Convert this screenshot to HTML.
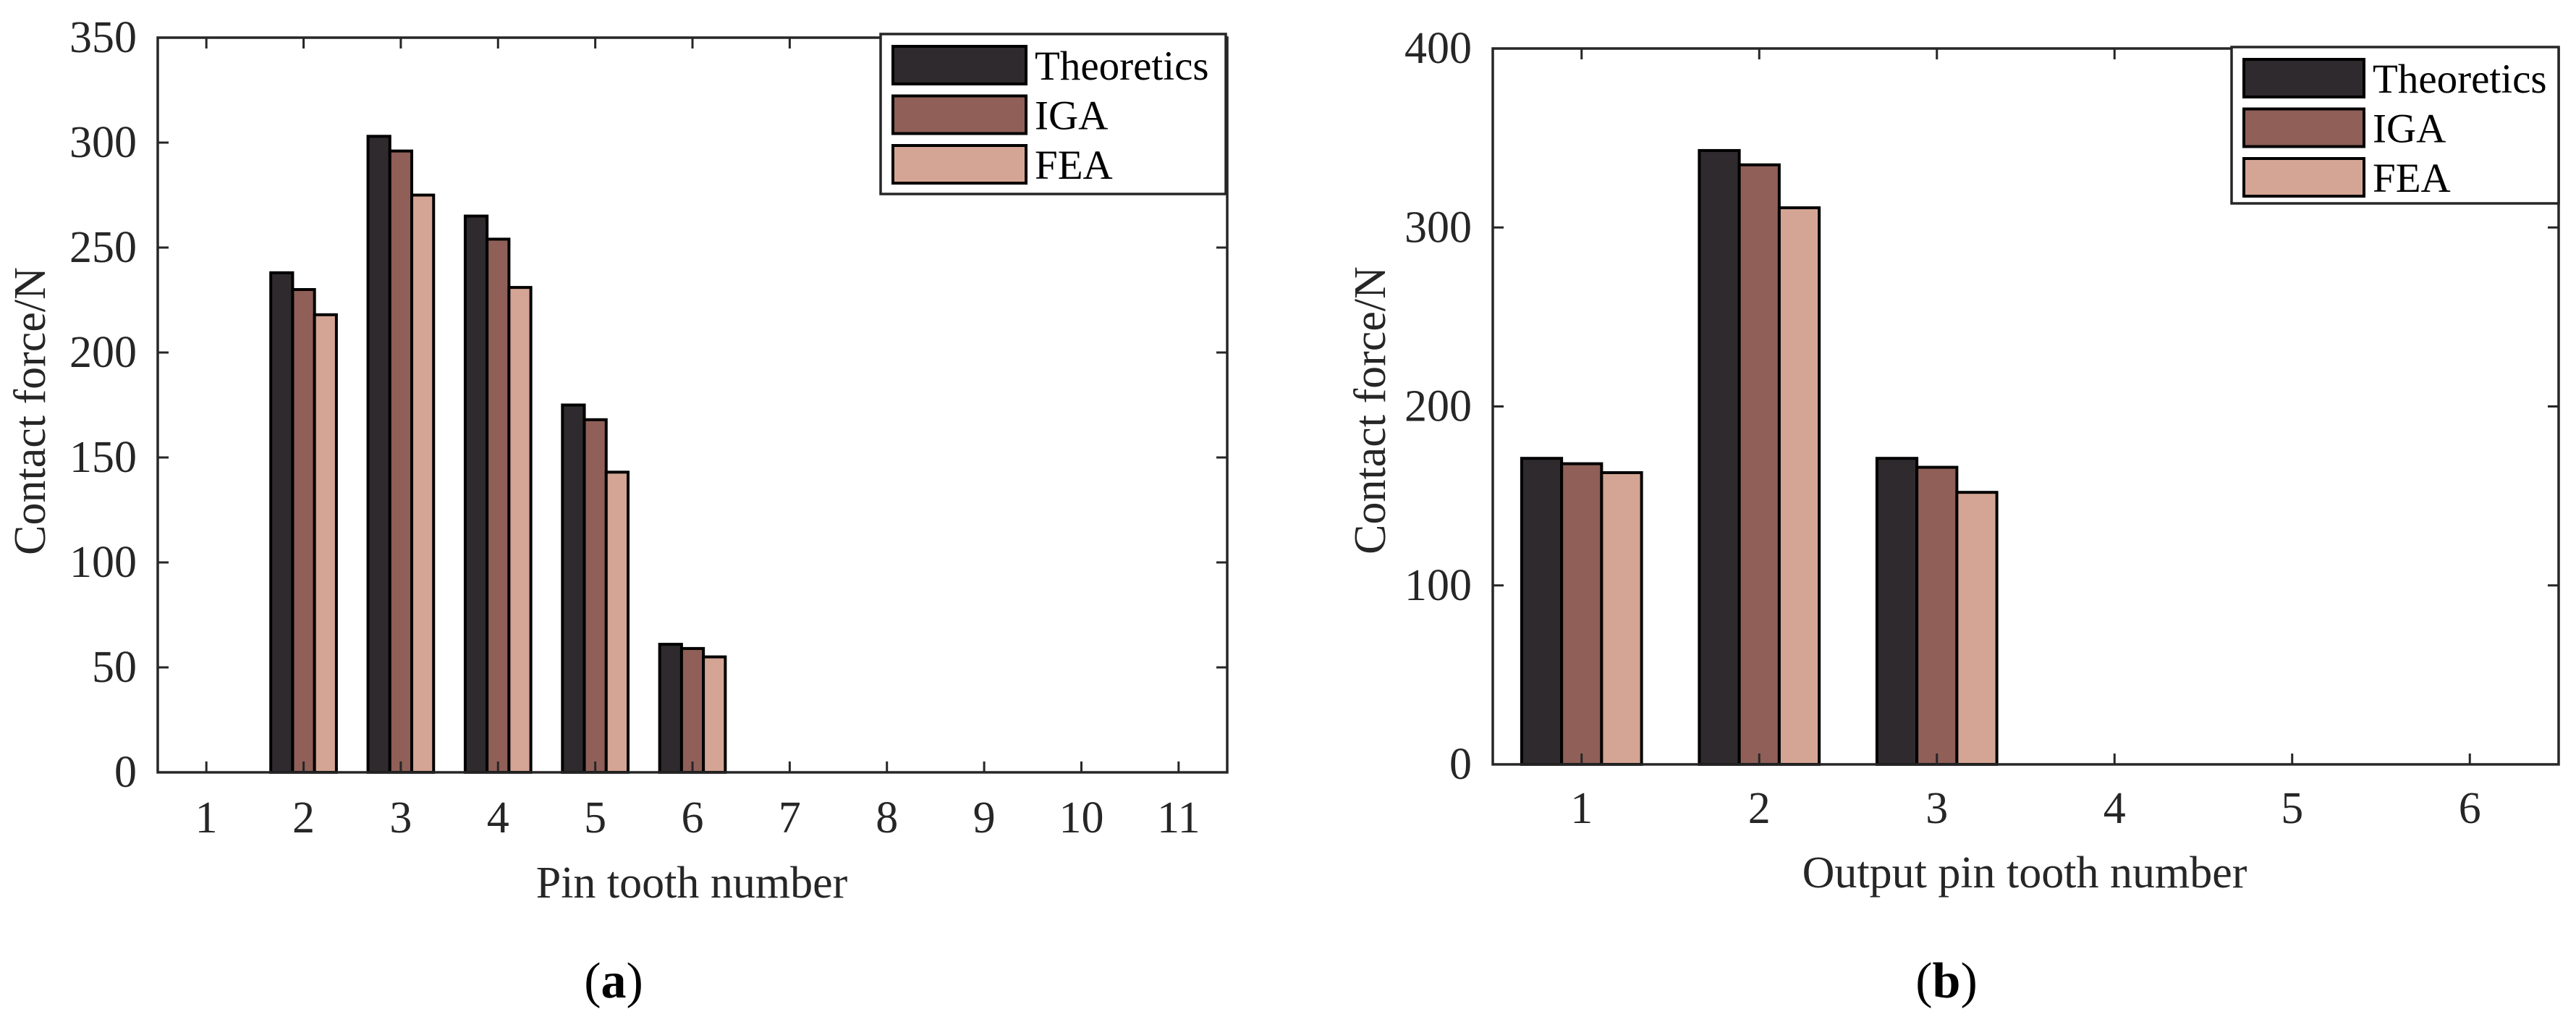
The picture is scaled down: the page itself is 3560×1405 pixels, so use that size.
<!DOCTYPE html>
<html><head><meta charset="utf-8"><style>
html,body{margin:0;padding:0;background:#fff;}
svg{display:block;}
svg text{font-family:"Liberation Serif","Times New Roman",serif;}
</style></head><body>
<svg id="fig" width="3560" height="1405" viewBox="0 0 3560 1405" xmlns="http://www.w3.org/2000/svg" font-family="Liberation Serif, serif"></svg>
<script>
const seriesNames = ["Theoretics","IGA","FEA"];
const colors = ["#2e2a2d","#8f5f58","#d4a594"];
// Chart (a)
const catsA = [1,2,3,4,5,6,7,8,9,10,11];
const theoA = [0,238,303,265,175,61,0,0,0,0,0];
const igaA  = [0,230,296,254,168,59,0,0,0,0,0];
const feaA  = [0,218,275,231,143,55,0,0,0,0,0];
const yTicksA = [0,50,100,150,200,250,300,350];
// Chart (b)
const catsB = [1,2,3,4,5,6];
const theoB = [171,343,171,0,0,0];
const igaB  = [168,335,166,0,0,0];
const feaB  = [163,311,152,0,0,0];
const yTicksB = [0,100,200,300,400];

const NS="http://www.w3.org/2000/svg";
const svg=document.getElementById('fig');
const FF='"Liberation Serif", serif';
function mk(tag,attrs,parent,text){const e=document.createElementNS(NS,tag);for(const k in attrs)e.setAttribute(k,attrs[k]);if(tag==='text')e.setAttribute('font-family',FF);if(text!==undefined)e.textContent=text;(parent||svg).appendChild(e);return e;}

function chart(cfg){
  const g=mk('g',{});
  
  
  const L=cfg.L,R=cfg.R,T=cfg.T,B=cfg.B;
  const n=cfg.cats.length;
  const xs=v=>L+(v-0.5)/n*(R-L);
  const ys=v=>B-(v/cfg.ymax)*(B-T);
  const unit=(R-L)/n;
  const bw=0.225*unit;
  const series=[cfg.s0,cfg.s1,cfg.s2];
  series.forEach((arr,si)=>{
    arr.forEach((v,i)=>{
      if(v<=0)return;
      const cx=xs(cfg.cats[i])+(si-1)*bw;
      const r=mk('rect',{x:cx-bw/2,y:ys(v),width:bw,height:ys(0)-ys(v),fill:colors[si],stroke:'#000','stroke-width':4},g);
      
      
    });
  });
  const box=mk('rect',{x:L,y:T,width:R-L,height:B-T,fill:'none',stroke:'#262626','stroke-width':3.5},g);
  
  
  const tl=15;
  cfg.cats.forEach(c=>{
    const x=xs(c);
    mk('line',{x1:x,y1:B,x2:x,y2:B-tl,stroke:'#262626','stroke-width':3},g);
    mk('line',{x1:x,y1:T,x2:x,y2:T+tl,stroke:'#262626','stroke-width':3},g);
    const t=mk('text',{x:x,y:cfg.xtickY,'font-size':62,'text-anchor':'middle','dominant-baseline':'central',fill:'#262626'},g,String(c));
    
    
  });
  cfg.yticks.forEach(v=>{
    const y=ys(v);
    mk('line',{x1:L,y1:y,x2:L+tl,y2:y,stroke:'#262626','stroke-width':3},g);
    mk('line',{x1:R,y1:y,x2:R-tl,y2:y,stroke:'#262626','stroke-width':3},g);
    const t=mk('text',{x:cfg.ytickX,y:y,'font-size':62,'text-anchor':'end','dominant-baseline':'central',fill:'#262626'},g,String(v));
    
    
  });
  const xt=mk('text',{x:cfg.xlabX,y:cfg.xlabY,'font-size':62,'text-anchor':'middle','dominant-baseline':'central',fill:'#262626'},g,cfg.xlabel);
  
  
  const yt=mk('text',{x:0,y:0,'font-size':62,'text-anchor':'middle','dominant-baseline':'central',fill:'#262626',transform:`translate(${cfg.ylabX},${cfg.ylabY}) rotate(-90)`},g,'Contact force/N');
  
  
  const lg=mk('g',{},g);
  
  
  const lb=cfg.leg;
  mk('rect',{x:lb.x,y:lb.y,width:lb.w,height:lb.h,fill:'#fff',stroke:'#262626','stroke-width':3.5},lg);
  seriesNames.forEach((nm,i)=>{
    const ry=lb.y+17+i*68.5;
    const e=mk('g',{},lg);
    
    
    mk('rect',{x:lb.x+17,y:ry,width:lb.sw,height:52,fill:colors[i],stroke:'#000','stroke-width':4},e);
    mk('text',{x:lb.x+17+lb.sw+12,y:ry+46,'font-size':57,fill:'#000'},e,nm);
  });
  const cap=mk('text',{x:cfg.capX,y:1355,'font-size':70,'text-anchor':'middle','dominant-baseline':'central',fill:'#000'},g);
  
  
  mk('tspan',{},cap,'(');
  mk('tspan',{'font-weight':'bold'},cap,cfg.cap);
  mk('tspan',{},cap,')');
}

chart({name:'chart-a',L:218,R:1696,T:52,B:1067,cats:catsA,s0:theoA,s1:igaA,s2:feaA,ymax:350,yticks:yTicksA,
  xtickY:1130,ytickX:189,xlabel:'Pin tooth number',xlabX:956,xlabY:1220,ylabX:42,ylabY:568,
  leg:{x:1217,y:47,w:477,h:221,sw:184},capX:848,cap:'a'});
chart({name:'chart-b',L:2063,R:3536,T:67,B:1056,cats:catsB,s0:theoB,s1:igaB,s2:feaB,ymax:400,yticks:yTicksB,
  xtickY:1117,ytickX:2034,xlabel:'Output pin tooth number',xlabX:2798,xlabY:1206,ylabX:1894,ylabY:567,
  leg:{x:3084,y:65,w:452,h:216,sw:166},capX:2690,cap:'b'});
</script>
</body></html>
